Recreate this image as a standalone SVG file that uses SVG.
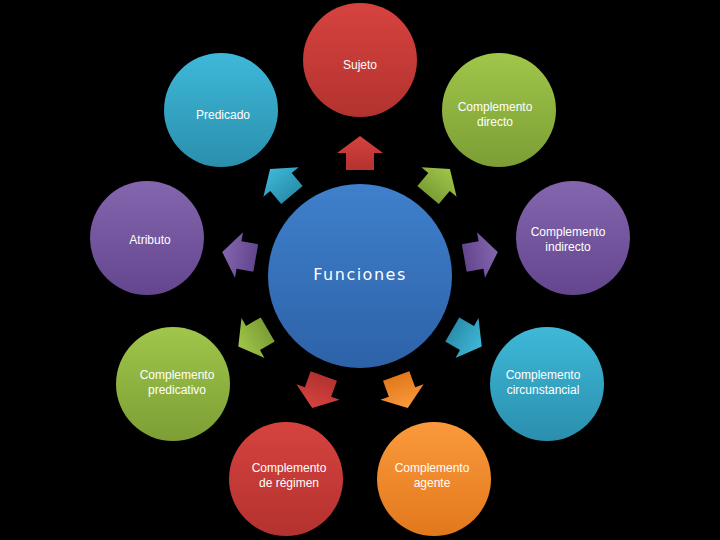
<svg xmlns="http://www.w3.org/2000/svg" width="720" height="540" viewBox="0 0 720 540">
<defs>
<linearGradient id="gRed" x1="0" y1="0" x2="0" y2="1"><stop offset="0" stop-color="#d6433f"/><stop offset="1" stop-color="#b3322f"/></linearGradient>
<linearGradient id="gGreen" x1="0" y1="0" x2="0" y2="1"><stop offset="0" stop-color="#a0c64a"/><stop offset="1" stop-color="#7c9e35"/></linearGradient>
<linearGradient id="gPurple" x1="0" y1="0" x2="0" y2="1"><stop offset="0" stop-color="#8466ae"/><stop offset="1" stop-color="#64468f"/></linearGradient>
<linearGradient id="gCyan" x1="0" y1="0" x2="0" y2="1"><stop offset="0" stop-color="#3fb8d8"/><stop offset="1" stop-color="#2a8fad"/></linearGradient>
<linearGradient id="gOrange" x1="0" y1="0" x2="0" y2="1"><stop offset="0" stop-color="#fa9a3c"/><stop offset="1" stop-color="#e2781c"/></linearGradient>
<linearGradient id="gBlue" x1="0" y1="0" x2="0" y2="1"><stop offset="0" stop-color="#3f80cc"/><stop offset="1" stop-color="#2d62a8"/></linearGradient>
<polygon id="arr" points="0,-17 23,0 14,0 14,17 -14,17 -14,0 -23,0"/>
</defs>
<style>
.lbl{font-family:"Liberation Sans","DejaVu Sans",sans-serif;font-size:12px;fill:#ffffff;text-anchor:middle}
.main{font-family:"DejaVu Sans","Liberation Sans",sans-serif;font-size:16px;fill:#ffffff;text-anchor:middle;letter-spacing:1.5px}
</style>
<rect width="720" height="540" fill="#000000"/>
<g id="connectors">
<use href="#arr" fill="url(#gRed)" transform="translate(360,153) rotate(0)"/>
<use href="#arr" fill="url(#gGreen)" transform="translate(439,182) rotate(40)"/>
<use href="#arr" fill="url(#gPurple)" transform="translate(481,255) rotate(80)"/>
<use href="#arr" fill="url(#gCyan)" transform="translate(467,338) rotate(120)"/>
<use href="#arr" fill="url(#gOrange)" transform="translate(402,392) rotate(160)"/>
<use href="#arr" fill="url(#gRed)" transform="translate(318,392) rotate(200)"/>
<use href="#arr" fill="url(#gGreen)" transform="translate(253,338) rotate(240)"/>
<use href="#arr" fill="url(#gPurple)" transform="translate(239,255) rotate(280)"/>
<use href="#arr" fill="url(#gCyan)" transform="translate(281,182) rotate(320)"/>
</g>
<g id="center"><circle cx="360" cy="276" r="92" fill="url(#gBlue)"/><text class="main" x="360" y="280">Funciones</text></g>
<g id="n-sujeto"><circle cx="360" cy="60" r="57" fill="url(#gRed)"/><text class="lbl" x="360" y="69">Sujeto</text></g>
<g id="n-cd"><circle cx="499" cy="110" r="57" fill="url(#gGreen)"/><text class="lbl" x="495" y="111">Complemento</text><text class="lbl" x="495" y="126">directo</text></g>
<g id="n-ci"><circle cx="573" cy="238" r="57" fill="url(#gPurple)"/><text class="lbl" x="568" y="236">Complemento</text><text class="lbl" x="568" y="251">indirecto</text></g>
<g id="n-cc"><circle cx="547" cy="384" r="57" fill="url(#gCyan)"/><text class="lbl" x="543" y="379">Complemento</text><text class="lbl" x="543" y="394">circunstancial</text></g>
<g id="n-ag"><circle cx="434" cy="479" r="57" fill="url(#gOrange)"/><text class="lbl" x="432" y="472">Complemento</text><text class="lbl" x="432" y="487">agente</text></g>
<g id="n-reg"><circle cx="286" cy="479" r="57" fill="url(#gRed)"/><text class="lbl" x="289" y="472">Complemento</text><text class="lbl" x="289" y="487">de régimen</text></g>
<g id="n-pred"><circle cx="173" cy="384" r="57" fill="url(#gGreen)"/><text class="lbl" x="177" y="379">Complemento</text><text class="lbl" x="177" y="394">predicativo</text></g>
<g id="n-atr"><circle cx="147" cy="238" r="57" fill="url(#gPurple)"/><text class="lbl" x="150" y="244">Atributo</text></g>
<g id="n-predicado"><circle cx="221" cy="110" r="57" fill="url(#gCyan)"/><text class="lbl" x="223" y="119">Predicado</text></g>
</svg>
